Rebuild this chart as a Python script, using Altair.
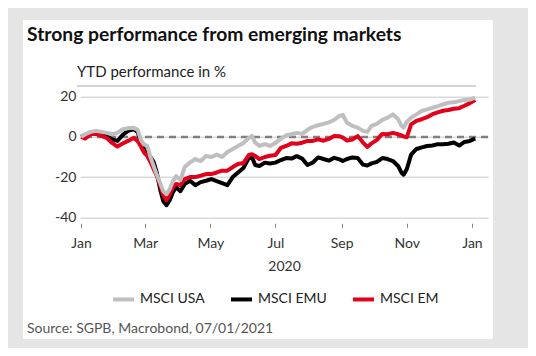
import altair as alt
import pandas as pd

# Day offsets from 2020-01-01
days = [0, 4, 9, 14, 19, 24, 29, 34, 39, 44,
        49, 53, 56, 59, 62, 65, 68, 71, 74, 77,
        80, 83, 86, 89, 93, 97, 102, 107, 112, 117,
        122, 127, 132, 137, 142, 147, 152, 157, 160, 163,
        167, 172, 177, 182, 187, 192, 197, 202, 207, 212,
        217, 222, 227, 232, 237, 242, 245, 249, 254, 259,
        264, 268, 272, 277, 282, 287, 292, 297, 300, 302,
        305, 309, 314, 319, 324, 329, 334, 339, 344, 349,
        354, 359, 364, 369]

msci_usa = [0, 1.3, 2.5, 3, 2.5, 2, 1.3, 2, 3.8, 4.3,
            4.6, 3.5, -1.5, -3.8, -4.5, -10, -14.5, -19, -23, -27,
            -28.5, -26, -22, -19.5, -21.5, -15, -12.7, -11, -12, -9.5,
            -10, -8.8, -10, -7.5, -6, -4.5, -3, -0.5, 0.5, -2.8,
            -4.5, -3.6, -4.5, -3, -1, 0.8, 1.3, 2, 1.5, 3.5,
            5, 5.8, 6.5, 7.2, 8.5, 10.5, 11, 7, 5.5, 4.6,
            3, 2.5, 5.5, 6.5, 8.5, 9.6, 11.2, 8.7, 5.5, 4.6,
            7.5, 9.6, 11.2, 12.9, 13.7, 14.5, 15.3, 16.2, 17, 17.2,
            17.8, 18.4, 18.6, 19.5]

msci_emu = [0, 1, 1.3, 2.5, 2, 0.5, -1.2, -2, 1, 3,
            3.8, 2.5, -3, -6, -8.8, -10, -12.5, -18, -26, -32,
            -34, -31.5, -27.5, -25, -27, -23.5, -21.8, -24, -22.5, -21.8,
            -21, -22, -23, -24, -20, -17.7, -15.5, -10.5, -10, -14,
            -14.5, -12.8, -13.2, -12.8, -11.5, -10.5, -10.8, -9.6, -10.8, -14,
            -12.7, -10.2, -11, -11.8, -10.4, -11.2, -12, -11, -10.2, -10.5,
            -13.8, -14.2, -13.2, -12.4, -10.5, -11, -12, -14.6, -17.8, -18.8,
            -16, -8.8, -6, -5.2, -4.5, -4.3, -3.6, -3.6, -3.4, -2.8,
            -4.3, -2.5, -2, -0.8]

msci_em = [0, -0.8, 1.5, 1.5, 0.5, -0.5, -3, -4.8, -3.3, -2,
           -0.5, -2, -4.8, -7.8, -9.5, -12.5, -16, -19.5, -24, -29,
           -31.5, -28.5, -25, -23.4, -24, -21, -20, -20, -19.3, -18.5,
           -18.5, -17.7, -16.8, -16.8, -15, -13.5, -13, -9, -8.6, -9.5,
           -11, -10, -9.4, -9, -5.5, -4.5, -3.2, -3.4, -2.9, -2,
           -2, -1.2, -1.9, -1, 0.5, 0.3, -0.3, -1.8, -1.3, 0.4,
           -2.8, -5, -3.2, -1.5, 1.5, 1.3, 2, 1.3, 0.7, 0.3,
           -0.2, 6.2, 8, 8.8, 9.8, 11.3, 12.2, 13, 13.4, 14,
           14.3, 15.5, 16.8, 18.4]

series_names = ["MSCI USA", "MSCI EMU", "MSCI EM"]
series_colors = ["#bfbfbf", "#000000", "#e2001a"]

# x tick positions (year, month)
x_ticks = [(2020, 1), (2020, 3), (2020, 5), (2020, 7), (2020, 9), (2020, 11), (2021, 1)]

dates = (pd.Timestamp("2020-01-01") + pd.to_timedelta(days, unit="D")).strftime("%Y-%m-%d")
frames = []
for name, vals in zip(series_names, [msci_usa, msci_emu, msci_em]):
    frames.append(pd.DataFrame({"date": dates, "value": vals, "series": name}))
df = pd.concat(frames, ignore_index=True)

FONT = "Lato"
FRAME = "#e5e5e5"

x_enc = alt.X(
    "date:T",
    scale=alt.Scale(type="utc", domain=[alt.DateTime(year=2019, month=12, date=31, utc=True),
                                        alt.DateTime(year=2021, month=1, date=16, utc=True)]),
    axis=alt.Axis(
        title="2020",
        values=[alt.DateTime(year=y, month=m, date=1, utc=True) for y, m in x_ticks],
        labelExpr="utcFormat(datum.value, '%b')",
        grid=False, domain=False, ticks=True, tickSize=4, tickColor="#888888", tickWidth=1,
        offset=6, labelPadding=9, labelFontSize=14, labelColor="#333333",
        titleFontSize=14, titleFontWeight="normal", titleColor="#333333", titlePadding=9,
        labelFont=FONT, titleFont=FONT,
    ),
)
y_enc = alt.Y(
    "value:Q",
    scale=alt.Scale(domain=[-40, 20], nice=False, zero=False),
    axis=alt.Axis(
        title=None, values=[-40, -30, -20, -10, 0, 10, 20],
        labelExpr="datum.value % 20 == 0 ? '' + datum.value : ''",
        grid=True, gridColor="#c8c8c8", gridWidth=1,
        domain=False, ticks=False, labelPadding=4,
        labelFontSize=14, labelColor="#333333", labelFont=FONT,
    ),
)
color_enc = alt.Color(
    "series:N",
    scale=alt.Scale(domain=series_names, range=series_colors),
    legend=alt.Legend(
        title=None, orient="none", legendX=31, legendY=190, direction="horizontal",
        symbolType="stroke", symbolStrokeWidth=4, symbolSize=441,
        labelFontSize=14, labelColor="#222222", labelFont=FONT,
        columnPadding=18, labelOffset=4,
    ),
)

one = pd.DataFrame({"k": [0]})
frame_left = alt.Chart(one).mark_rect(color=FRAME).encode(
    x=alt.value(-72), x2=alt.value(-57), y=alt.value(-88.7), y2=alt.value(251.3))
frame_right = alt.Chart(one).mark_rect(color=FRAME).encode(
    x=alt.value(413), x2=alt.value(448), y=alt.value(-88.7), y2=alt.value(251.3))
frame_top = alt.Chart(one).mark_rect(color=FRAME).encode(
    x=alt.value(-72), x2=alt.value(448), y=alt.value(-88.7), y2=alt.value(-76.7))
frame_bottom = alt.Chart(one).mark_rect(color=FRAME).encode(
    x=alt.value(-72), x2=alt.value(448), y=alt.value(242.3), y2=alt.value(251.3))

underline = alt.Chart(one).mark_rule(color="#aaaaaa", strokeWidth=1).encode(
    x=alt.value(-3), x2=alt.value(396), y=alt.value(-10.7)
)
title = alt.Chart(pd.DataFrame({"t": ["Strong performance from emerging markets"]})).mark_text(
    align="left", baseline="alphabetic", font=FONT, fontSize=19.3, fontWeight="bold", color="#111111"
).encode(text="t:N", x=alt.value(-53), y=alt.value(-56))
subtitle = alt.Chart(pd.DataFrame({"t": ["YTD performance in %"]})).mark_text(
    align="left", baseline="alphabetic", font=FONT, fontSize=15, color="#222222"
).encode(text="t:N", x=alt.value(-3), y=alt.value(-20))
source = alt.Chart(pd.DataFrame({"t": ["Source: SGPB, Macrobond, 07/01/2021"]})).mark_text(
    align="left", baseline="alphabetic", font=FONT, fontSize=14, color="#555555"
).encode(text="t:N", x=alt.value(-53), y=alt.value(236.3))

zero = alt.Chart(pd.DataFrame({"v": [0]})).mark_rule(
    color="#808080", strokeWidth=2.5, strokeDash=[7, 5]
).encode(y="v:Q")

base = alt.Chart(df).encode(x=x_enc, y=y_enc, color=color_enc)
lines = [
    base.transform_filter(alt.datum.series == n).mark_line(strokeWidth=4, strokeJoin="round")
    for n in ["MSCI EMU", "MSCI EM", "MSCI USA"]
]

chart = alt.layer(frame_left, frame_right, frame_top, frame_bottom, underline, title, subtitle,
                  source, zero, *lines).properties(
    width=408, height=120.6,
    autosize=alt.AutoSizeParams(type="none"),
    padding={"left": 72, "top": 88.7, "right": 40, "bottom": 130.7},
    background="white",
).configure_view(stroke=None)

chart.save("out.html", embed_options={"renderer": "svg", "actions": False})
